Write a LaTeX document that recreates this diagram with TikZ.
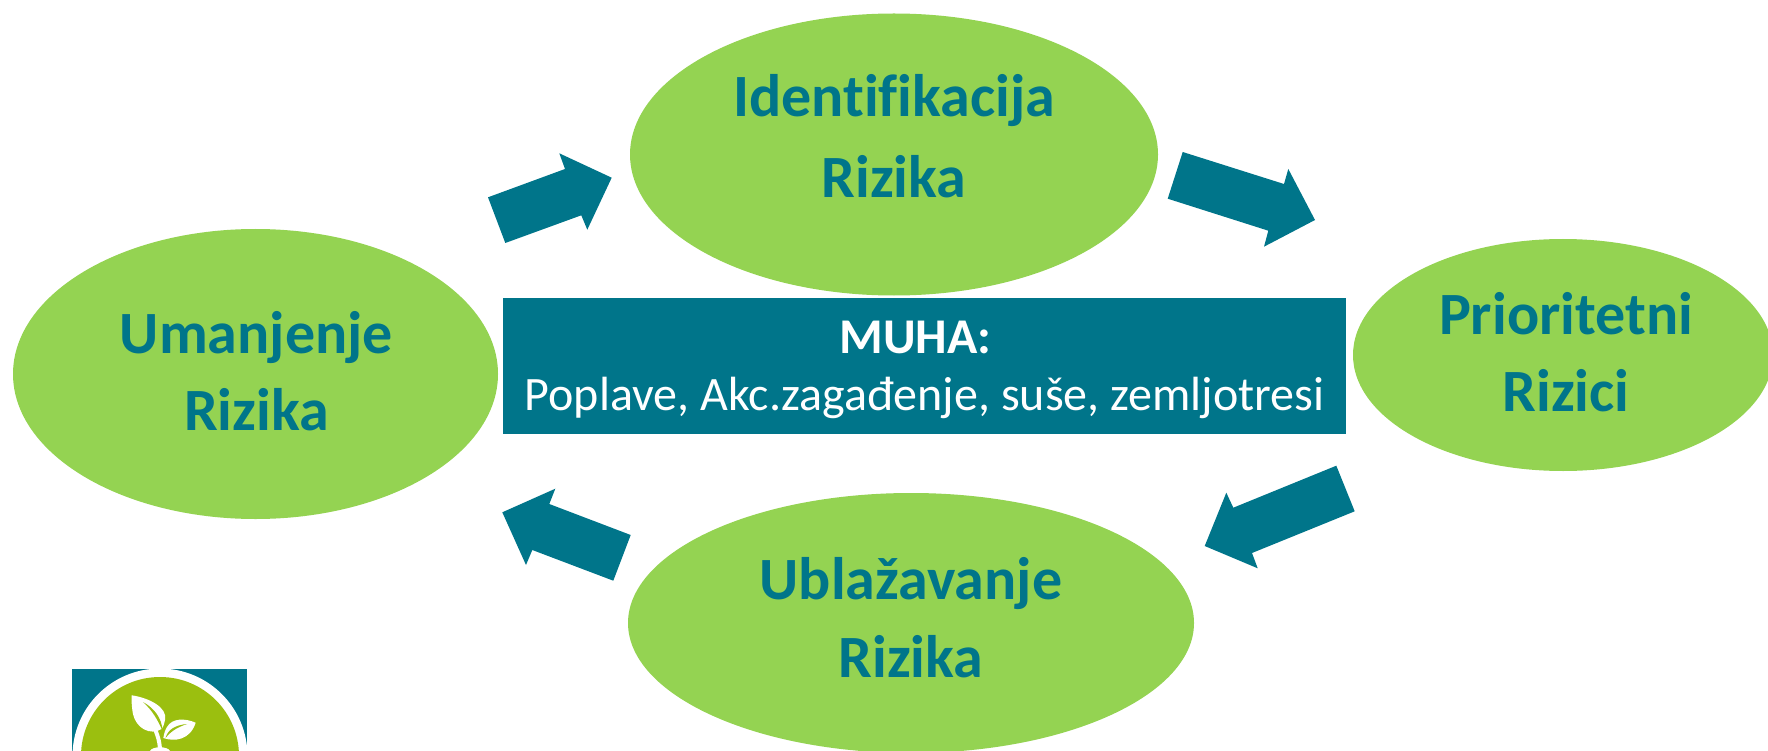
\documentclass[tikz,border=0pt]{standalone}
\usepackage{fontspec}
\usetikzlibrary{shapes.geometric}
\setmainfont[Ligatures=NoCommon]{Carlito}
\definecolor{teal1}{HTML}{00758A}
\definecolor{green1}{HTML}{94D352}
\definecolor{green2}{HTML}{9BBF0F}
\tikzset{
  blob/.style={ellipse,fill=green1,inner sep=0pt,draw=none},
  title/.style={text=teal1,align=center,font=\fontsize{60}{77}\selectfont\bfseries,inner sep=0pt},
  blockarrow/.style={fill=teal1,draw=none},
}
\begin{document}
\begin{tikzpicture}[x=1pt,y=-1pt]
\useasboundingbox (0,0) rectangle (1768,751);
\clip (0,0) rectangle (1768,751);
\node[blob,minimum width=485pt,minimum height=290pt] (um) at (255.5,374) {};
\node[blob,minimum width=528pt,minimum height=282pt] (id) at (894,154.5) {};
\node[blob,minimum width=420pt,minimum height=232pt] (pr) at (1563,355) {};
\node[blob,minimum width=566pt,minimum height=260pt] (ub) at (911,623) {};
\node[title] (umt) at (256.5,371) {Umanjenje\\Rizika};
\node[title,font=\fontsize{60}{81}\selectfont\bfseries] (idt) at (894,136) {Identifikacija\\Rizika};
\node[title] (prt) at (1566,352) {Prioritetni\\Rizici};
\node[title,font=\fontsize{60}{78}\selectfont\bfseries] (ubt) at (911,618) {Ublažavanje\\Rizika};
\node[fill=teal1,minimum width=843pt,minimum height=136pt,inner sep=0pt] (box) at (924.5,366) {};
\node[text=white,align=center,inner sep=0pt,font=\fontsize{48}{57}\selectfont] (boxt) at (924.5,370) {\textbf{\fontsize{50}{57}\selectfont MUHA:}\hspace*{18pt}\\Poplave, Akc.zagađenje, suše, zemljotresi};
\fill[blockarrow] (488,197.3)--(565,169)--(559.3,153.3)--(611.7,177.7)--(587.3,229.7)--(581.3,215.3)--(505.3,243)--cycle;
\fill[blockarrow] (1182.7,152)--(1284,184)--(1288.3,169)--(1315,220)--(1264,246.7)--(1268.3,230.7)--(1167.7,198.7)--cycle;
\fill[blockarrow] (1336.3,465.7)--(1354.7,511.3)--(1252,553)--(1257.7,568.3)--(1204.7,546)--(1226.3,492.7)--(1233.3,507.7)--cycle;
\fill[blockarrow] (630.7,535)--(613.3,580.7)--(532.3,550)--(526,565)--(502.3,512.3)--(555.3,488.7)--(549.3,504)--cycle;
% logo
\fill[teal1] (72,669) rectangle (247,751);
\fill[white] (160,756) circle (87.5);
\fill[green2] (160,756) circle (79);
\fill[white] (131.7,695.3) .. controls (150,698) and (168,708) .. (165,720) .. controls (164,725) and (163,727) .. (161.7,729) .. controls (150,736) and (136,728) .. (133,714) .. controls (131.5,706) and (131.5,700) .. (131.7,695.3) -- cycle;
\fill[white] (195.7,722.7) .. controls (185,718) and (172,718) .. (167,727) .. controls (165,730) and (164,734) .. (163.3,738) .. controls (175,742) and (190,740) .. (195.7,722.7) -- cycle;
\draw[white,line width=4pt] (151,722) .. controls (156,730) and (160,740) .. (160,751);
\fill[white] (150,751) .. controls (152,746) and (168,746) .. (170,751) -- cycle;
\fill[green2] (143,702) .. controls (154,708) and (162,718) .. (162.5,731) .. controls (158,720) and (152,710) .. (143,702) -- cycle;
\fill[green2] (165.5,738) .. controls (168,729) and (176,725) .. (187,724) .. controls (178,727) and (171,731) .. (165.5,738) -- cycle;
\end{tikzpicture}
\end{document}
